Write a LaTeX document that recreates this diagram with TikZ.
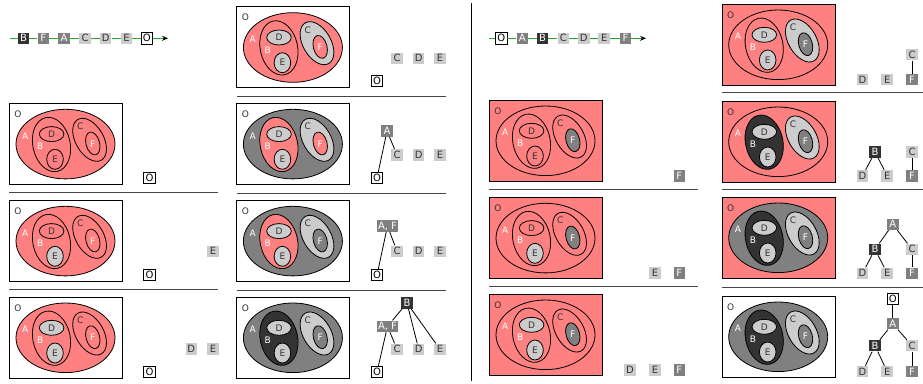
\documentclass[tikz,border=0pt]{standalone}
\usepackage{fontspec}
\setmainfont{DejaVu Sans}
\usetikzlibrary{arrows.meta}
\definecolor{pk}{HTML}{FF8080}
\definecolor{md}{HTML}{808080}
\definecolor{dk}{HTML}{333333}
\definecolor{lt}{HTML}{CCCCCC}
\definecolor{gr}{HTML}{22AA22}
\definecolor{sepc}{HTML}{444444}
\tikzset{
  nd/.style={inner sep=1pt, minimum width=11.5pt, minimum height=11.5pt, font=\fontsize{10}{10}\selectfont},
  nK/.style={nd, fill=dk, text=white},
  nM/.style={nd, fill=md, text=white},
  nL/.style={nd, fill=lt, text=dk},
  nO/.style={nd, fill=white, draw=black, line width=0.8pt, text=black},
  ln/.style={line width=0.8pt, draw=black},
  sepline/.style={line width=1pt, draw=sepc},
  seqline/.style={line width=1pt, draw=gr, -{Stealth[black,length=6pt,width=5pt]}},
  reg/.style={draw=black, line width=0.8pt},
  boxline/.style={draw=black, line width=1pt},
  lab/.style={font=\fontsize{9}{9}\selectfont, inner sep=0pt},
}
\newcommand\panel[9]{%
  \begin{scope}[shift={(#2)}]
    \draw[boxline, fill=#3] (0,0) rectangle (113,81);
    \draw[reg, fill=#4] (56.2,40.8) ellipse [x radius=49.5, y radius=34.8];
    \draw[reg, fill=#5, rotate around={12:(42.2,41.2)}] (42.2,41.2) ellipse [x radius=18.7, y radius=27.5];
    \draw[reg, fill=#6] (42.3,30.8) ellipse [x radius=12.3, y radius=7.5];
    \draw[reg, fill=#7] (45.7,56) ellipse [x radius=8.3, y radius=10];
    \draw[reg, fill=#8, rotate around={30:(80.3,36.5)}] (80.3,36.5) ellipse [x radius=14, y radius=23.5];
    \draw[reg, fill=#9, rotate around={15:(83.5,40.2)}] (83.5,40.2) ellipse [x radius=6.8, y radius=11.7];
    \node[lab, text=dk] (#1lo) at (8.7,11) {O};
    \node[lab, text=white] (#1la) at (16,32.7) {A};
    \node[lab, text=white] (#1lb) at (31,43.3) {B};
    \node[lab, text=dk] (#1lc) at (71,23.3) {C};
    \node[lab, text=dk] (#1ld) at (42.3,30.8) {D};
    \node[lab, text=dk] (#1le) at (45.7,56) {E};
    \node[lab, text=white] (#1lf) at (83.5,40.5) {F};
  \end{scope}}
\begin{document}
\begin{tikzpicture}[x=1pt, y=-1pt]
\useasboundingbox (0,0) rectangle (923,383);

% separators
\draw[line width=1pt, draw=black] (471.7,3) -- (471.7,381);
\draw[sepline] (9,192.3) -- (218,192.3);
\draw[sepline] (9,289) -- (218,289);
\draw[sepline] (237,96) -- (446,96);
\draw[sepline] (237,193.3) -- (446,193.3);
\draw[sepline] (237,290) -- (446,290);
\draw[sepline] (489,189.3) -- (698,189.3);
\draw[sepline] (489,286.7) -- (698,286.7);
\draw[sepline] (722,92.7) -- (923,92.7);
\draw[sepline] (722,189.3) -- (923,189.3);
\draw[sepline] (722,287) -- (923,287);

% left sequence
\coordinate (sl0) at (10,38.3);
\node[nK] (slB) at (23.5,38.3) {B};
\node[nM] (slF) at (43.3,38.3) {F};
\node[nM] (slA) at (64,38.3) {A};
\node[nL] (slC) at (85,38.3) {C};
\node[nL] (slD) at (105.7,38.3) {D};
\node[nL] (slE) at (126.5,38.3) {E};
\node[nO] (slO) at (146.8,38.3) {O};
\coordinate (sl1) at (168,38.3);
\draw[seqline] (sl0) -- (slB) -- (slF) -- (slA) -- (slC) -- (slD) -- (slE) -- (slO) -- (sl1);

% right sequence
\coordinate (sr0) at (489,38.3);
\node[nO] (srO) at (501.3,38.3) {O};
\node[nM] (srA) at (522.3,38.3) {A};
\node[nK] (srB) at (542.5,38.3) {B};
\node[nL] (srC) at (563.3,38.3) {C};
\node[nL] (srD) at (583.8,38.3) {D};
\node[nL] (srE) at (604.2,38.3) {E};
\node[nM] (srF) at (625.5,38.3) {F};
\coordinate (sr1) at (646,38.3);
\draw[seqline] (sr0) -- (srO) -- (srA) -- (srB) -- (srC) -- (srD) -- (srE) -- (srF) -- (sr1);

% left panels
\panel{l1}{9.3,103.3}{white}{pk}{pk}{pk}{pk}{pk}{pk}
\panel{l2}{9.3,200.3}{white}{pk}{pk}{pk}{lt}{pk}{pk}
\panel{l3}{9.3,297}{white}{pk}{pk}{lt}{lt}{pk}{pk}
\panel{l4}{236.7,6.7}{white}{pk}{pk}{lt}{lt}{lt}{pk}
\panel{l5}{236.7,103.3}{white}{md}{pk}{lt}{lt}{lt}{pk}
\panel{l6}{236.7,200.3}{white}{md}{pk}{lt}{lt}{lt}{md}
\panel{l7}{236.7,297}{white}{md}{dk}{lt}{lt}{lt}{md}

% right panels
\panel{r1}{489.3,100}{pk}{pk}{pk}{pk}{pk}{pk}{md}
\panel{r2}{489.3,197.3}{pk}{pk}{pk}{pk}{lt}{pk}{md}
\panel{r3}{489.3,294}{pk}{pk}{pk}{lt}{lt}{pk}{md}
\panel{r4}{722,4}{pk}{pk}{pk}{lt}{lt}{lt}{md}
\panel{r5}{722,101}{pk}{pk}{dk}{lt}{lt}{lt}{md}
\panel{r6}{722,197}{pk}{md}{dk}{lt}{lt}{lt}{md}
\panel{r7}{722,296}{white}{md}{dk}{lt}{lt}{lt}{md}

% trees, left column 1
\node[nO] (t1O) at (149.5,178) {O};
\node[nL] (t2E) at (213,251.3) {E};
\node[nO] (t2O) at (149.5,275) {O};
\node[nL] (t3D) at (191.3,349) {D};
\node[nL] (t3E) at (213,349) {E};
\node[nO] (t3O) at (149.5,372) {O};

% trees, left column 2
\node[nL] (t4C) at (397,58.3) {C};
\node[nL] (t4D) at (418.7,58.3) {D};
\node[nL] (t4E) at (440,58.3) {E};
\node[nO] (t4O) at (377,81) {O};

\node[nM] (t5A) at (387,131) {A};
\node[nL] (t5C) at (397,155) {C};
\node[nL] (t5D) at (418.7,155) {D};
\node[nL] (t5E) at (440,155) {E};
\node[nO] (t5O) at (377,178) {O};
\draw[ln] (t5A) -- (t5O);
\draw[ln] (t5A) -- (t5C);

\node[nM] (t6A) at (387.5,226) {A, F};
\node[nL] (t6C) at (397,251.3) {C};
\node[nL] (t6D) at (418.7,251.3) {D};
\node[nL] (t6E) at (440,251.3) {E};
\node[nO] (t6O) at (377,275) {O};
\draw[ln] (t6A) -- (t6O);
\draw[ln] (t6A) -- (t6C);

\node[nK] (t7B) at (407,303) {B};
\node[nM] (t7A) at (387.5,326.3) {A, F};
\node[nL] (t7C) at (397,349.3) {C};
\node[nL] (t7D) at (418.7,349.3) {D};
\node[nL] (t7E) at (440,349.3) {E};
\node[nO] (t7O) at (377,372) {O};
\draw[ln] (t7B) -- (t7A);
\draw[ln] (t7B) -- (t7D);
\draw[ln] (t7B) -- (t7E);
\draw[ln] (t7A) -- (t7C);
\draw[ln] (t7A) -- (t7O);

% trees, right column 3
\node[nM] (u1F) at (679.3,176) {F};
\node[nL] (u2E) at (655,273) {E};
\node[nM] (u2F) at (679.3,273) {F};
\node[nL] (u3D) at (630,370) {D};
\node[nL] (u3E) at (655,370) {E};
\node[nM] (u3F) at (679.3,370) {F};

% trees, right column 4
\node[nL] (u4C) at (912,54.7) {C};
\node[nL] (u4D) at (862.5,79.5) {D};
\node[nL] (u4E) at (887.2,79.5) {E};
\node[nM] (u4F) at (912,79.5) {F};
\draw[ln] (u4C) -- (u4F);

\node[nK] (u5B) at (875,152) {B};
\node[nL] (u5C) at (912,152) {C};
\node[nL] (u5D) at (862.5,175.8) {D};
\node[nL] (u5E) at (887.2,175.8) {E};
\node[nM] (u5F) at (912,175.8) {F};
\draw[ln] (u5B) -- (u5D);
\draw[ln] (u5B) -- (u5E);
\draw[ln] (u5C) -- (u5F);

\node[nM] (u6A) at (892.8,224.3) {A};
\node[nK] (u6B) at (875,249.3) {B};
\node[nL] (u6C) at (912,249.3) {C};
\node[nL] (u6D) at (862.5,273.3) {D};
\node[nL] (u6E) at (887.2,273.3) {E};
\node[nM] (u6F) at (912,273.3) {F};
\draw[ln] (u6A) -- (u6B);
\draw[ln] (u6A) -- (u6C);
\draw[ln] (u6B) -- (u6D);
\draw[ln] (u6B) -- (u6E);
\draw[ln] (u6C) -- (u6F);

\node[nO] (u7O) at (892.8,299) {O};
\node[nM] (u7A) at (892.8,323.7) {A};
\node[nK] (u7B) at (875,345.7) {B};
\node[nL] (u7C) at (912,345.7) {C};
\node[nL] (u7D) at (862.5,371.7) {D};
\node[nL] (u7E) at (887.2,371.7) {E};
\node[nM] (u7F) at (912,371.7) {F};
\draw[ln] (u7O) -- (u7A);
\draw[ln] (u7A) -- (u7B);
\draw[ln] (u7A) -- (u7C);
\draw[ln] (u7B) -- (u7D);
\draw[ln] (u7B) -- (u7E);
\draw[ln] (u7C) -- (u7F);
\end{tikzpicture}
\end{document}
